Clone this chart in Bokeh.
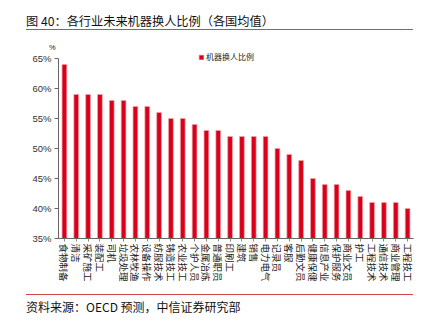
from bokeh.plotting import figure
from bokeh.models import (FactorRange, FixedTicker, PrintfTickFormatter, Div, ColumnDataSource,
                          Legend, LegendItem, Range1d)
from bokeh.layouts import column
from bokeh.embed import file_html
from bokeh.resources import INLINE

categories = ["食物制备", "清洁", "采矿施工", "装配工", "司机", "垃圾处理", "农林牧渔", "设备操作",
              "纺服技术", "铸造技工", "农业技工", "个护人员", "金属冶炼", "普通职员", "印刷工", "建筑",
              "销售", "电力电气", "记录员", "客服", "后勤文员", "健康保健", "信息产业", "保护服务",
              "商业文员", "护工", "工程技术", "通信技术", "商业管理", "工程技工"]
values = [64, 59, 59, 59, 58, 58, 57, 57, 56, 55, 55, 54, 53, 53, 52, 52, 52, 52, 50, 49,
          48, 45, 44, 44, 43, 42, 41, 41, 41, 40]
y_ticks = [35, 40, 45, 50, 55, 60, 65]
series_name = "机器换人比例"
unit_text = "%"
title_text = "图 40：各行业未来机器换人比例（各国均值）"
source_text = "资料来源：OECD 预测，中信证券研究部"

CJK = "'Noto Sans CJK SC', 'Noto Sans', sans-serif"

title_div = Div(
    text=(f'<div style="box-sizing:border-box;width:426px;height:52px;margin:0;padding:0;">'
          f'<div style="box-sizing:border-box;margin:0 0 0 26px;padding:13px 0 0 0;width:387px;'
          f'height:30px;line-height:16px;border-bottom:1px solid #d0474a;'
          f'font-family:{CJK};font-size:12.2px;color:#111;white-space:nowrap;">{title_text}</div>'
          f'<div style="box-sizing:border-box;margin:0 0 0 49px;padding:13px 0 0 0;width:12px;'
          f'height:22px;line-height:9px;'
          f'font-family:Arial,sans-serif;font-size:7.5px;color:#222;">{unit_text}</div>'
          f'</div>'),
    width=426, height=52, margin=(0, 0, 0, 0))

src = ColumnDataSource(dict(cat=categories, val=values))

p = figure(x_range=FactorRange(factors=categories, range_padding=0), y_range=Range1d(35, 66),
           width=426, height=238, output_backend="svg", toolbar_location=None, title=None,
           min_border_left=58, min_border_right=13, min_border_top=0, min_border_bottom=52)
p.outline_line_color = None
p.grid.visible = False
p.background_fill_color = "white"

r = p.vbar(x="cat", top="val", bottom=35, width=0.4, source=src, fill_color="#D9001B",
           line_color="#f0a0a8", line_width=0.7)

p.yaxis.ticker = FixedTicker(ticks=y_ticks)
p.yaxis.bounds = (35, 65)
p.yaxis.formatter = PrintfTickFormatter(format="%d%%")
p.yaxis.minor_tick_line_color = None
p.yaxis.major_tick_in = 0
p.yaxis.major_tick_out = 4
p.yaxis.major_label_text_font = "Liberation Sans"
p.yaxis.major_label_text_font_size = "9.5px"
p.yaxis.major_label_text_color = "#333333"
p.yaxis.major_label_standoff = 3
p.yaxis.axis_line_color = "#666666"
p.yaxis.major_tick_line_color = "#666666"

p.xaxis.major_label_orientation = "vertical"
p.xaxis.major_label_text_font = "Noto Sans CJK SC"
p.xaxis.major_label_text_font_size = "9.5px"
p.xaxis.major_label_text_color = "#222222"
p.xaxis.major_tick_in = 0
p.xaxis.major_tick_out = 3
p.xaxis.major_label_standoff = 2
p.xaxis.axis_line_color = "#666666"
p.xaxis.major_tick_line_color = "#888888"

lg = Legend(items=[LegendItem(label=series_name, renderers=[r])], location=(140, 176))
lg.label_text_font = "Noto Sans CJK SC"
lg.label_text_font_size = "8px"
lg.label_text_color = "#222222"
lg.glyph_width = 6
lg.glyph_height = 6
lg.label_height = 9
lg.label_standoff = 2
lg.padding = 0
lg.margin = 0
lg.spacing = 0
lg.border_line_alpha = 0
lg.background_fill_alpha = 0
p.add_layout(lg, "center")

src_div = Div(
    text=(f'<div style="box-sizing:border-box;margin:4px 0 0 26px;width:387px;'
          f'border-top:1px solid #d0474a;padding:4px 0 0 0;line-height:16px;height:21px;'
          f'font-family:{CJK};font-size:12px;color:#111;white-space:nowrap;">{source_text}</div>'),
    width=426, height=34, margin=(0, 0, 0, 0))

layout = column(title_div, p, src_div, spacing=0)
open("out.html", "w").write(file_html(layout, INLINE))
